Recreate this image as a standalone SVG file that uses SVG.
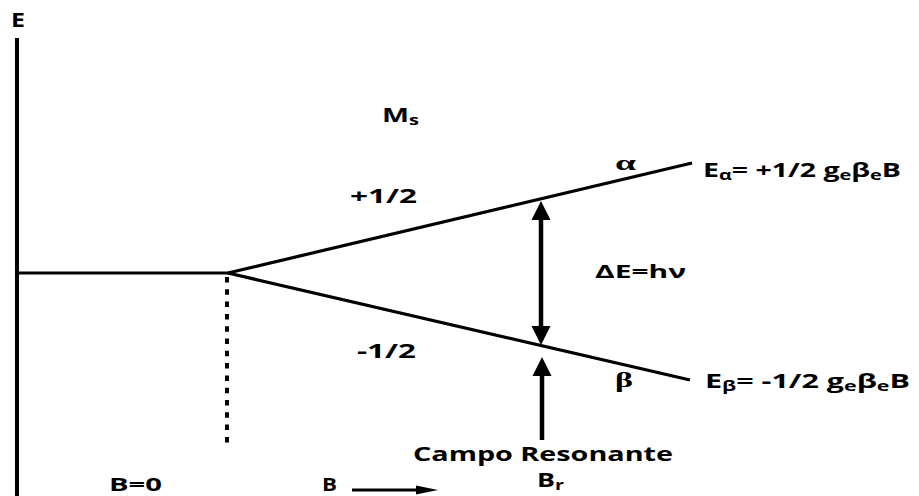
<svg xmlns="http://www.w3.org/2000/svg" width="919" height="496" viewBox="0 0 919 496">
  <style>
    .t { font-family: "Open Sans", "Liberation Sans", sans-serif; font-weight: bold; fill: #000; }
    .g { font-family: "Liberation Serif", "DejaVu Serif", serif; font-weight: bold; fill: #000; }
    .ln { stroke: #000; fill: none; stroke-linecap: butt; }
  </style>

  <!-- energy axis -->
  <g id="axis">
    <line class="ln" x1="17" y1="38" x2="17" y2="496" stroke-width="4"/>
    <text class="t" x="11" y="27" font-size="19" textLength="14" lengthAdjust="spacingAndGlyphs">E</text>
  </g>

  <!-- energy levels -->
  <g id="levels">
    <line class="ln" x1="19" y1="273" x2="229" y2="273" stroke-width="3.2"/>
    <line class="ln" x1="228" y1="273" x2="692" y2="163" stroke-width="3.2"/>
    <line class="ln" x1="228" y1="273" x2="690" y2="380" stroke-width="3.2"/>
    <line class="ln" x1="227" y1="277" x2="227" y2="443" stroke-width="4" stroke-dasharray="5.5 6.8"/>
  </g>

  <!-- arrows -->
  <g id="connectors">
    <line class="ln" x1="541" y1="219" x2="541" y2="327" stroke-width="4.5"/>
    <path d="M541,201 L531.5,220 L550.5,220 Z" fill="#000"/>
    <path d="M541,345 L531.5,326 L550.5,326 Z" fill="#000"/>
    <line class="ln" x1="542" y1="375" x2="542" y2="440" stroke-width="4.5"/>
    <path d="M542,357 L532.5,376 L551.5,376 Z" fill="#000"/>
    <line class="ln" x1="352" y1="490" x2="418" y2="490" stroke-width="3"/>
    <path d="M438,490 L416,485.5 L416,494.5 Z" fill="#000"/>
  </g>

  <g id="ms-label">
    <text class="t" x="382" y="122" font-size="20" textLength="37" lengthAdjust="spacingAndGlyphs">M<tspan font-size="14" dy="3">s</tspan></text>
  </g>

  <g id="alpha-level">
    <text class="t" x="350" y="203" font-size="20" textLength="67" lengthAdjust="spacingAndGlyphs">+1/2</text>
    <text class="g" x="615" y="170" font-size="22" textLength="21" lengthAdjust="spacingAndGlyphs">α</text>
    <text class="t" x="703" y="177" font-size="20" textLength="198" lengthAdjust="spacingAndGlyphs">E<tspan font-size="14" dy="3">α</tspan><tspan dy="-3">= +1/2 g</tspan><tspan font-size="14" dy="3">e</tspan><tspan dy="-3">β</tspan><tspan font-size="14" dy="3">e</tspan><tspan dy="-3">B</tspan></text>
  </g>

  <g id="beta-level">
    <text class="t" x="357" y="358" font-size="20" textLength="59" lengthAdjust="spacingAndGlyphs">-1/2</text>
    <text class="g" x="615" y="387" font-size="22" textLength="18" lengthAdjust="spacingAndGlyphs">β</text>
    <text class="t" x="705" y="388" font-size="20" textLength="205" lengthAdjust="spacingAndGlyphs">E<tspan font-size="14" dy="3">β</tspan><tspan dy="-3">= -1/2 g</tspan><tspan font-size="14" dy="3">e</tspan><tspan dy="-3">β</tspan><tspan font-size="14" dy="3">e</tspan><tspan dy="-3">B</tspan></text>
  </g>

  <g id="transition">
    <text class="t" x="595" y="278" font-size="17" textLength="91" lengthAdjust="spacingAndGlyphs">ΔE=hν</text>
  </g>

  <g id="field-labels">
    <text class="t" x="109" y="491" font-size="17" textLength="53" lengthAdjust="spacingAndGlyphs">B=0</text>
    <text class="t" x="322" y="491" font-size="17" textLength="15" lengthAdjust="spacingAndGlyphs">B</text>
    <text class="t" x="413" y="461" font-size="20" textLength="260" lengthAdjust="spacingAndGlyphs">Campo Resonante</text>
    <text class="t" x="537" y="487" font-size="19" textLength="27" lengthAdjust="spacingAndGlyphs">B<tspan font-size="14" dy="3">r</tspan></text>
  </g>
</svg>
